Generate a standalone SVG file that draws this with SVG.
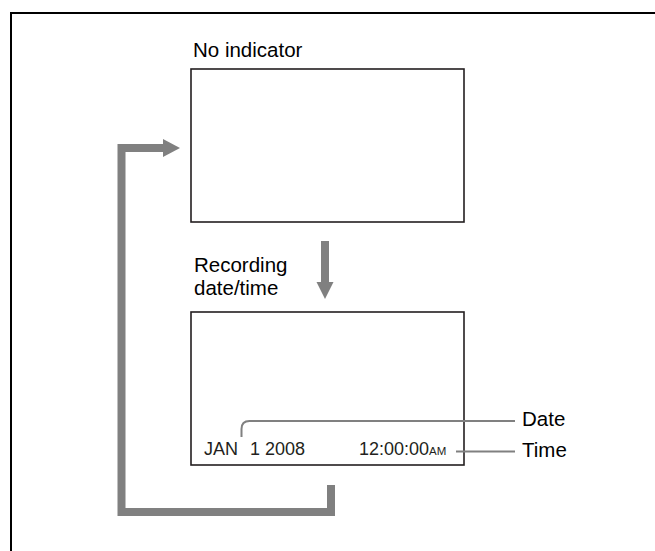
<svg xmlns="http://www.w3.org/2000/svg" width="655" height="551" viewBox="0 0 655 551">
<style>
.frame{fill:none;stroke:#000;stroke-width:2}
.screen{fill:#fff;stroke:#231f20;stroke-width:1.6}
.lbl{font-family:"Liberation Sans",Arial,sans-serif;font-size:20.5px;fill:#000}
.osd{font-family:"Liberation Sans",Arial,sans-serif;font-size:18px;fill:#231f20}
.osds{font-family:"Liberation Sans",Arial,sans-serif;font-size:11.5px;fill:#231f20}
.flow{fill:none;stroke:#808080;stroke-width:8}
.lead{fill:none;stroke:#808080;stroke-width:2}
.head{fill:#808080}
</style>
<rect width="655" height="551" fill="#fff"/>
<path class="frame" d="M11 551 V13 H655"/>
<g id="no-indicator">
<text class="lbl" x="193" y="57">No indicator</text>
<rect class="screen" x="191" y="69" width="273" height="153"/>
</g>
<g id="recording-datetime">
<text class="lbl" x="194" y="272">Recording</text>
<text class="lbl" x="194" y="295">date/time</text>
<rect class="screen" x="191" y="312" width="273" height="153"/>
<text class="osd" x="204" y="455">JAN</text>
<text class="osd" x="250" y="455">1 2008</text>
<text class="osd" x="359" y="455">12:00:00<tspan class="osds">AM</tspan></text>
</g>
<g id="date-label"><text class="lbl" x="522" y="426">Date</text></g>
<g id="time-label"><text class="lbl" x="522" y="457">Time</text></g>
<g id="connectors">
<path class="flow" d="M325 241 V284"/>
<polygon class="head" points="316.5,282 333.5,282 325,299"/>
<path class="flow" d="M331 485 V512 H121.5 V148 H165"/>
<polygon class="head" points="163,139 163,157 180,148"/>
<path class="lead" d="M241.5 437 V429 Q241.5 421 249.5 421 H515"/>
<path class="lead" d="M456 451.5 H515"/>
</g>
</svg>
